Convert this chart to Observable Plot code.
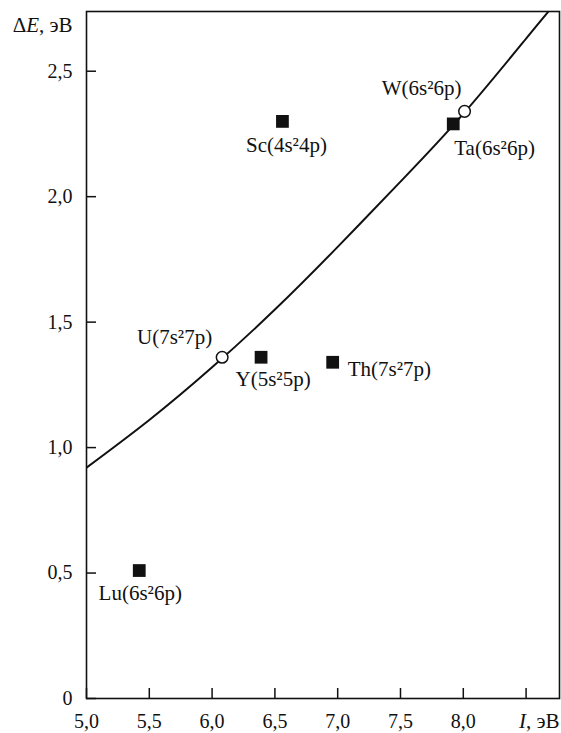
<!DOCTYPE html>
<html>
<head>
<meta charset="utf-8">
<script src="https://cdn.jsdelivr.net/npm/d3@7"></script>
<script src="https://cdn.jsdelivr.net/npm/@observablehq/plot@0.6"></script>
<style>
  html, body { margin: 0; padding: 0; background: #fff; }
  #chart svg { display: block; }
  #chart svg, #chart svg text { font-family: "Liberation Serif", "Times New Roman", serif !important; }
</style>
</head>
<body>
<div id="chart"></div>
<script>
// Ionization energy I (eV) vs. excitation energy ΔE (eV) for selected atoms
const elements  = ["Lu(6s²6p)", "Sc(4s²4p)", "Ta(6s²6p)", "Y(5s²5p)", "Th(7s²7p)", "W(6s²6p)", "U(7s²7p)"];
const ionization = [5.42, 6.56, 7.92, 6.39, 6.96, 8.01, 6.08];
const excitation = [0.51, 2.30, 2.29, 1.36, 1.34, 2.34, 1.36];
const onCurve    = [false, false, false, false, false, true, true];

// Fitted trend curve
const curveI = [5.0, 5.5, 6.0, 6.5, 7.0, 7.5, 8.0, 8.5, 8.69];
const curveE = [0.92, 1.11, 1.32, 1.55, 1.80, 2.06, 2.33, 2.63, 2.745];

// Axis ticks
const xTicks = [5.0, 5.5, 6.0, 6.5, 7.0, 7.5, 8.0, 8.5];
const yTicks = [0, 0.5, 1.0, 1.5, 2.0, 2.5];

const points = elements.map((name, i) => ({
  name, I: ionization[i], dE: excitation[i], open: onCurve[i]
}));
const curve = curveI.map((I, i) => ({I, dE: curveE[i]}));

// Label placement around each marker
const labelPos = {
  "Lu(6s²6p)": {anchor: "middle", dx: 1,   dy: 23},
  "Sc(4s²4p)": {anchor: "middle", dx: 4,   dy: 24},
  "Ta(6s²6p)": {anchor: "start",  dx: 1,   dy: 24},
  "Y(5s²5p)":  {anchor: "middle", dx: 12,  dy: 22},
  "Th(7s²7p)": {anchor: "start",  dx: 15,  dy: 7},
  "W(6s²6p)":  {anchor: "end",    dx: -3,  dy: -23},
  "U(7s²7p)":  {anchor: "end",    dx: -10, dy: -20}
};

const fmt = d => d === 0 ? "0" : (d === 8.5 ? "" : d.toFixed(1).replace(".", ","));
const serif = "Liberation Serif, Times New Roman, serif";

const labelMarks = points.map(p => Plot.text([p], {
  x: "I", y: "dE", text: "name",
  textAnchor: labelPos[p.name].anchor, lineAnchor: "middle",
  dx: labelPos[p.name].dx, dy: labelPos[p.name].dy,
  fontSize: 21, fontFamily: serif, fill: "#111"
}));

const chart = Plot.plot({
  width: 561,
  height: 733,
  marginLeft: 86,
  marginRight: 2,
  marginTop: 11,
  marginBottom: 35,
  style: {fontFamily: serif, fontSize: "20px", color: "#111", background: "#fff"},
  x: {domain: [5, 8.766], label: null},
  y: {domain: [0, 2.738], label: null},
  marks: [
    Plot.frame({stroke: "#111", strokeWidth: 1.6}),
    Plot.axisX({ticks: xTicks, label: null, tickSize: 10, dy: -10, tickPadding: 15, tickFormat: fmt, fontSize: 20, fontFamily: serif, strokeWidth: 1.5}),
    Plot.axisY({ticks: yTicks, label: null, tickSize: 10, dx: 10, tickPadding: 14, tickFormat: fmt, fontSize: 20, fontFamily: serif, strokeWidth: 1.5}),
    Plot.line(curve, {x: "I", y: "dE", curve: "natural", stroke: "#111", strokeWidth: 2, clip: true}),
    Plot.dot(points.filter(p => !p.open), {x: "I", y: "dE", symbol: "square", r: 7.2, fill: "#111", stroke: null}),
    Plot.dot(points.filter(p => p.open), {x: "I", y: "dE", r: 5.8, fill: "#fff", stroke: "#111", strokeWidth: 1.5}),
    ...labelMarks,
    Plot.text(["ΔE, эВ"], {frameAnchor: "top-left", dx: -14, dy: 14, textAnchor: "end", lineAnchor: "middle", fontSize: 21, fontFamily: serif, fill: "#111"}),
    Plot.text(["I, эВ"], {frameAnchor: "bottom-right", dx: 0, dy: 23, textAnchor: "end", lineAnchor: "middle", fontSize: 21, fontFamily: serif, fill: "#111"})
  ]
});

// Italicise the physical quantity symbols in the axis titles
chart.querySelectorAll("text").forEach(t => {
  const s = t.textContent;
  if (s === "ΔE, эВ" || s === "I, эВ") {
    const sym = s === "ΔE, эВ" ? ["Δ", "E"] : ["", "I"];
    t.textContent = "";
    const ns = "http://www.w3.org/2000/svg";
    if (sym[0]) { const a = document.createElementNS(ns, "tspan"); a.textContent = sym[0]; t.appendChild(a); }
    const b = document.createElementNS(ns, "tspan"); b.textContent = sym[1]; b.setAttribute("font-style", "italic"); t.appendChild(b);
    const c = document.createElementNS(ns, "tspan"); c.textContent = ", эВ"; t.appendChild(c);
  }
});

document.getElementById("chart").appendChild(chart);
</script>
</body>
</html>
